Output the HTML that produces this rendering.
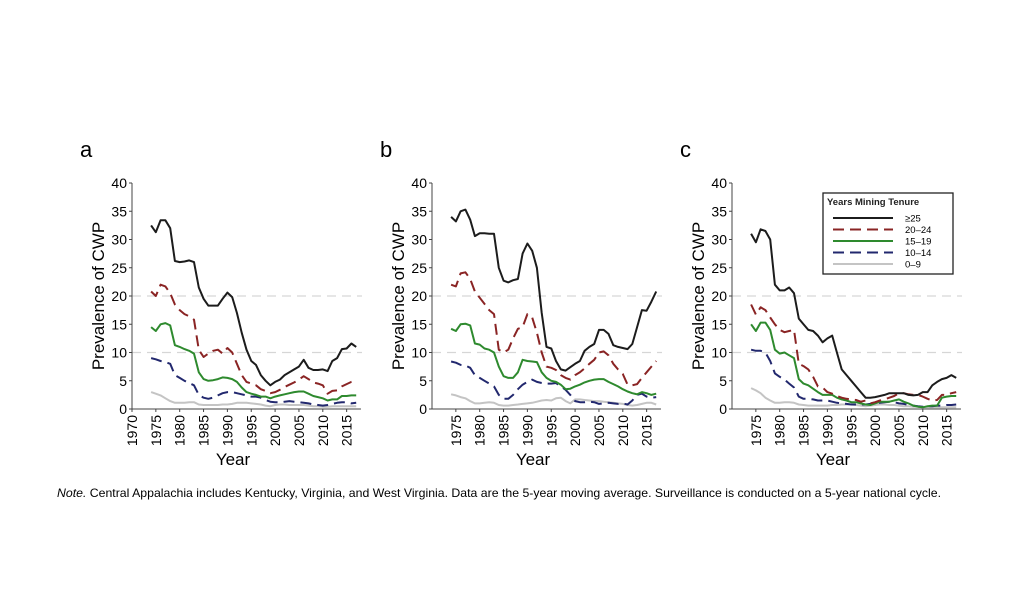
<!DOCTYPE html>
<html><head><meta charset="utf-8"><style>
html,body{margin:0;padding:0;background:#fff;width:1024px;height:594px;overflow:hidden}
svg{display:block;font-family:"Liberation Sans",sans-serif}
</style></head><body>
<svg id="s" width="1024" height="594" viewBox="0 0 1024 594" xmlns="http://www.w3.org/2000/svg"></svg>
<script>
const D={
a:[
[32.5,31.3,33.4,33.4,32,26.2,26,26.1,26.3,26,21.5,19.5,18.3,18.3,18.3,19.5,20.6,19.8,17,13.5,10.5,8.5,7.8,6,5,4.2,4.8,5.2,6,6.5,7,7.5,8.7,7.3,6.9,6.9,7,6.7,8.5,9,10.6,10.7,11.6,11],
[20.8,20,22,21.7,20.5,18.5,17.5,16.8,16.4,15.8,10.5,9.2,9.8,10.3,10.5,9.8,10.8,10,8,6,4.8,4.5,4.2,3.5,3.2,2.8,3,3.4,3.9,4.3,4.7,5.2,5.8,5.3,4.7,4.5,4.2,2.7,3.2,3.3,4,4.4,4.8,5],
[14.5,13.8,15,15.2,14.8,11.3,11,10.6,10.3,9.8,6.5,5.3,5,5.1,5.3,5.6,5.5,5.3,4.8,3.8,3,2.7,2.5,2.2,2.2,1.9,2.2,2.4,2.6,2.8,3,3.1,3.1,2.7,2.3,2.1,1.9,1.5,1.7,1.7,2.3,2.3,2.4,2.4],
[9,8.8,8.5,8.3,8,6,5.5,5,4.6,4.2,2.5,2,1.8,2,2.4,2.8,3,3,2.8,2.6,2.4,2.2,2.2,2,1.6,1.3,1.2,1.2,1.3,1.4,1.3,1.2,1.1,1,0.8,0.7,0.6,0.7,0.9,1.1,1.2,1.2,1,1.1],
[3,2.7,2.4,1.9,1.4,1.1,1.1,1.1,1.2,1.2,0.8,0.7,0.7,0.7,0.7,0.8,0.8,0.9,1.1,1.1,1.1,1,0.9,0.8,0.6,0.5,0.7,0.8,0.8,0.7,0.7,0.7,0.7,0.6,0.5,0.5,0.4,0.4,0.5,0.5,0.5,0.5,0.5,0.5]],
b:[
[34,33.2,35,35.3,33.5,30.6,31.1,31.1,31,31,25,22.7,22.4,22.8,23,27.5,29.3,28,25,17,11,10.7,8.5,7,6.8,7.4,8,8.5,10.3,11,11.5,14,14,13.3,11.3,11,10.8,10.6,11.5,14.5,17.5,17.4,19,20.8],
[22,21.7,24,24.2,23,20.8,19.7,18.6,17.5,16.8,10.5,10,10.5,12.5,14.2,14.5,16.8,16.2,13.5,10,7.5,7.3,6.9,6,5.5,5.2,6,6.5,7.2,8,8.7,10,10.2,9.5,8,7,6.2,4.3,4.2,4.4,5.5,6.5,7.5,8.5],
[14.2,13.8,15,15.1,14.8,11.6,11.4,10.7,10.5,10,7.5,5.8,5.5,5.5,6.5,8.7,8.5,8.4,8.3,6.5,5.5,5,4.8,4.3,3.5,3.6,4,4.3,4.7,5,5.2,5.3,5.3,4.8,4.4,4,3.5,3.1,2.8,2.6,3,2.8,2.5,2.7],
[8.4,8.2,7.8,7.7,7.3,6,5.5,5,4.5,4,2.5,1.8,1.8,2.5,3.5,4.3,4.8,5.2,4.8,4.6,4.5,4.5,4.6,4,3.4,2.5,1.4,1.2,1.2,1.3,1.2,0.9,1,1.1,1,0.9,1,0.8,1.5,2.5,2.7,2.2,2,2.1],
[2.6,2.4,2.1,1.9,1.4,1,1,1.1,1.2,1.1,0.7,0.6,0.6,0.7,0.8,0.9,1,1.1,1.3,1.5,1.6,1.5,1.9,2,1.4,1,1.7,1.7,1.6,1.5,1.4,1.4,1.3,1.2,1.1,1,0.9,0.7,0.6,0.7,0.9,1.1,1.1,0.8]],
c:[
[31,29.5,31.8,31.5,30,22,21,21,21.5,20.5,16,15,14,13.8,13,11.8,12.5,13,10,7,6,5,4,3,2,2,2.1,2.3,2.5,2.8,2.8,2.8,2.8,2.5,2.4,2.5,3,3,4.2,4.8,5.3,5.5,6,5.5],
[18.5,16.7,18,17.5,16.2,15,14,13.6,13.8,14,8,7.6,7,5.7,4,3.8,3,2.7,2.3,2,1.8,1.7,1.6,1.3,1.5,1,1.2,1.5,1.7,2,2.3,2.8,2.8,2.6,2.5,2.5,2.2,1.8,1.5,1.6,2.5,2.5,2.8,3],
[15,13.8,15.3,15.3,14,10.5,9.8,10,9.5,9,5.3,4.5,4.2,3.6,3,2.5,2.5,2.5,2,1.7,1.5,1.2,1.2,1,0.8,0.7,1,1.3,1.3,1.3,1.5,1.7,1.3,1,0.6,0.4,0.3,0.5,0.6,0.6,2,2.2,2.3,2.3],
[10.5,10.3,10.3,10,8.5,6.3,5.7,5.2,4.5,3.8,2.2,1.8,1.8,1.7,1.5,1.5,1.5,1.3,1.1,1,0.9,0.8,0.8,0.8,0.8,0.9,1,1.1,1.2,1.3,1.2,1,0.9,0.7,0.6,0.5,0.4,0.5,0.5,0.6,0.6,0.7,0.7,0.8],
[3.7,3.3,2.8,2,1.5,1.1,1.1,1.2,1.2,1.1,0.8,0.7,0.6,0.6,0.6,0.6,0.6,0.7,0.7,0.8,0.8,0.8,0.7,0.6,0.5,0.6,0.7,0.8,0.8,0.7,0.7,0.6,0.5,0.5,0.4,0.4,0.3,0.3,0.3,0.3,0.3,0.3,0.3,0.3]]};
const ST=[{c:"#1c1c1c",d:""},{c:"#8a2424",d:"11,6"},{c:"#2e8a2e",d:""},{c:"#22286e",d:"11,6"},{c:"#c4c4c4",d:""}];
let h="";
const Y0=409,SY=5.65,SX=4.77;
[["a",132],["b",432],["c",732]].forEach(([k,ax])=>{
  const X=y=>ax+(y-1970)*SX, Yv=v=>Y0-v*SY;
  h+=`<text x="${ax-52}" y="157" font-size="22">${k}</text>`;
  [10,20].forEach(v=>h+=`<line x1="${ax}" x2="${ax+230}" y1="${Yv(v)}" y2="${Yv(v)}" stroke="#d6d6d6" stroke-width="1.2" stroke-dasharray="9,6"/>`);
  h+=`<line x1="${ax}" y1="${Yv(40)}" x2="${ax}" y2="${Y0}" stroke="#444" stroke-width="1"/>`;
  h+=`<line x1="${ax}" y1="${Y0}" x2="${X(2018)}" y2="${Y0}" stroke="#444" stroke-width="1"/>`;
  for(let v=0;v<=40;v+=5){h+=`<line x1="${ax-3}" x2="${ax}" y1="${Yv(v)}" y2="${Yv(v)}" stroke="#444"/><text x="${ax-5}" y="${Yv(v)+5}" font-size="14" text-anchor="end">${v}</text>`;}
  for(let y=1970;y<=2015;y+=5){ if(y==1970&&k!="a")continue; const x=X(y);h+=`<line x1="${x}" x2="${x}" y1="${Y0}" y2="${Y0+3}" stroke="#444"/><text transform="translate(${x+5},${Y0+6}) rotate(-90)" font-size="14" text-anchor="end">${y}</text>`;}
  h+=`<text transform="translate(${ax-28},${296}) rotate(-90)" font-size="17" text-anchor="middle">Prevalence of CWP</text>`;
  h+=`<text x="${ax+101}" y="465" font-size="17" text-anchor="middle">Year</text>`;
  D[k].slice().reverse().forEach((arr,ri)=>{const i=4-ri;const p=arr.map((v,j)=>X(1974+j).toFixed(1)+","+Yv(v).toFixed(1)).join(" ");
    h+=`<polyline points="${p}" fill="none" stroke="${ST[i].c}" stroke-width="2" stroke-linejoin="round" ${ST[i].d?`stroke-dasharray="${ST[i].d}"`:""}/>`;});
});
h+=`<rect x="823" y="193" width="130" height="81" fill="#fff" stroke="#222" stroke-width="1.3"/>`;
h+=`<text x="827" y="205" font-size="9.5" font-weight="bold" fill="#222">Years Mining Tenure</text>`;
const lb=["≥25","20–24","15–19","10–14","0–9"];
lb.forEach((t,i)=>{const y=218+i*11.5;h+=`<line x1="833" x2="893" y1="${y}" y2="${y}" stroke="${ST[i].c}" stroke-width="2" ${ST[i].d?`stroke-dasharray="${ST[i].d}"`:""}/><text x="905" y="${y+3.5}" font-size="9.5">${t}</text>`;});
h+=`<text x="57" y="497" font-size="12" textLength="884" lengthAdjust="spacingAndGlyphs"><tspan font-style="italic">Note.</tspan> Central Appalachia includes Kentucky, Virginia, and West Virginia. Data are the 5-year moving average. Surveillance is conducted on a 5-year national cycle.</text>`;
document.getElementById("s").innerHTML=h;
</script>
</body></html>
